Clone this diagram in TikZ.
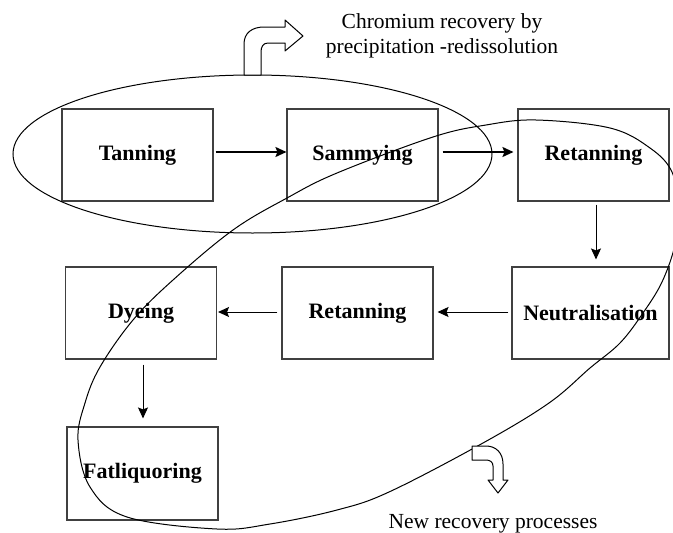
\documentclass[tikz,border=0pt]{standalone}
\usepackage{fontspec}
\setmainfont{Liberation Serif}
\usetikzlibrary{arrows.meta}
\begin{document}
\begin{tikzpicture}[x=1pt,y=-1pt,
  stepbox/.style={draw=black!75, line width=1.1pt, minimum width=151pt, minimum height=92pt, inner sep=0pt, font=\fontsize{22}{24}\selectfont\bfseries},
  flow/.style={-{Stealth[length=11pt,width=10pt,inset=2pt]}, line width=1pt},
  thickflow/.style={flow, line width=1.8pt},
  loopline/.style={line width=1pt},
  bent/.style={draw, fill=white, line width=1pt, line join=round},
  lbl/.style={font=\fontsize{21.5}{25}\selectfont, inner sep=0pt, anchor=base}]
\useasboundingbox (0,0) rectangle (673,533);
\clip (0,0) rectangle (673,533);

% process boxes
\node[stepbox] (tan) at (137.5,155) {Tanning};
\node[stepbox] (sam) at (362.5,155) {Sammying};
\node[stepbox] (ret1) at (593.5,155) {Retanning};
\node[stepbox] (dye) at (141,313) {Dyeing};
\node[stepbox] (ret2) at (357.5,313) {Retanning};
\node[stepbox, minimum width=157pt] (neu) at (590.5,313) {Neutralisation};
\node[stepbox, minimum height=93pt] (fat) at (142.5,473.5) {Fatliquoring};

% connectors
\draw[thickflow, shorten <=2pt] ([yshift=3pt]tan.east) -- ([yshift=3pt]sam.west);
\draw[thickflow, shorten <=4pt, shorten >=4pt] ([yshift=3pt]sam.east) -- ([yshift=3pt]ret1.west);
\draw[flow, shorten <=3pt, shorten >=7pt] ([xshift=2.5pt]ret1.south) -- ([xshift=2.5pt]ret1.south |- neu.north);
\draw[flow, shorten <=3pt, shorten >=4pt] ([yshift=1pt]neu.west) -- ([yshift=1pt]ret2.east);
\draw[flow, shorten <=4pt, shorten >=1pt] ([yshift=1pt]ret2.west) -- ([yshift=1pt]dye.east);
\draw[flow, shorten <=5pt, shorten >=8pt] ([xshift=2pt]dye.south) -- ([xshift=2pt]dye.south |- fat.north);

% chromium recovery ellipse
\draw[loopline] (252.5,154) ellipse [x radius=239.5, y radius=79];

% new recovery loop
\draw[loopline] plot[smooth cycle, tension=0.6] coordinates {
  (536,120) (610,128) (650,148) (672,172) (679,210) (675,245) (662,282)
  (643,313) (620,343) (590,368) (549,403) (483,443) (389,492) (337,510)
  (270,524) (217,529) (127,517) (90,487) (78,440) (85,403) (100,367)
  (133,320) (173,280) (233,230) (287,198) (337,173) (433,137) (486,125)};

% bent arrows
\draw[bent] (244,75) -- (244,44) .. controls (244,33) and (252,27) .. (264,27)
  -- (285,27) -- (285,20) -- (303,36) -- (285,51) -- (285,43) -- (268,43)
  .. controls (263,43) and (261,47) .. (261,52) -- (261,75) -- cycle;
\draw[bent] (472,446) -- (486,446) .. controls (496,446) and (503,453) .. (503,464)
  -- (503,480) -- (508,480) -- (498,493) -- (488,480) -- (493,480) -- (493,466)
  .. controls (493,462) and (490,460) .. (486,460) -- (472,460) -- cycle;

% labels
\node[lbl] (cr1) at (442,28) {Chromium recovery by};
\node[lbl] (cr2) at (442,53) {precipitation -redissolution};
\node[lbl] (nrp) at (493,528) {New recovery processes};
\end{tikzpicture}
\end{document}
